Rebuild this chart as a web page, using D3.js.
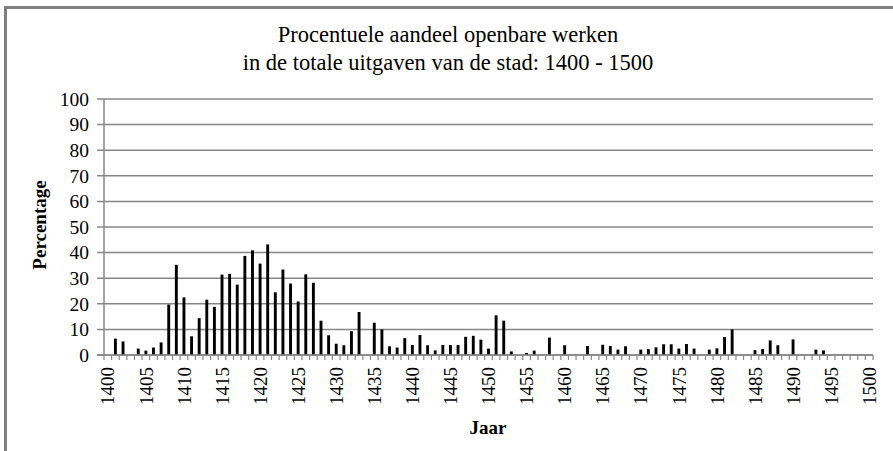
<!DOCTYPE html>
<html>
<head>
<meta charset="utf-8">
<script src="https://cdn.jsdelivr.net/npm/d3@7"></script>
<style>
  body { margin: 0; background: #fff; }
  svg text { font-family: "Liberation Serif", "Times New Roman", "DejaVu Serif", serif; fill: #000; }
</style>
</head>
<body>
<svg id="chart" width="893" height="451"></svg>
<script>
// years 1400 - 1500, one bar per year (0 = no bar)
var years = d3.range(1400, 1501);
var values = [
  0, 6.4, 5.3, 0, 2.5, 1.7, 2.9, 4.9, 19.7, 35.2,      // 1400-1409
  22.5, 7.3, 14.4, 21.6, 18.8, 31.4, 31.7, 27.5, 38.7, 40.9, // 1410-1419
  35.7, 43.2, 24.5, 33.4, 27.9, 20.9, 31.5, 28.2, 13.4, 7.7, // 1420-1429
  4.4, 3.8, 9.3, 16.8, 0, 12.6, 10.0, 3.4, 2.9, 6.6,   // 1430-1439
  3.9, 7.8, 3.8, 1.8, 3.9, 3.9, 3.9, 7.1, 7.5, 6.0,    // 1440-1449
  2.5, 15.5, 13.4, 1.4, 0, 0.8, 1.7, 0, 6.8, 0,        // 1450-1459
  3.8, 0, 0, 3.5, 0, 4.0, 3.5, 2.1, 3.4, 0,            // 1460-1469
  2.1, 2.3, 3.0, 4.2, 4.2, 2.5, 4.3, 2.5, 0, 2.1,      // 1470-1479
  2.6, 7.0, 10.0, 0, 0, 1.9, 2.3, 5.7, 3.8, 0,         // 1480-1489
  6.1, 0, 0, 2.1, 1.8, 0, 0, 0, 0, 0,                  // 1490-1499
  0                                                    // 1500
];
var yTicks = [0, 10, 20, 30, 40, 50, 60, 70, 80, 90, 100];
var xLabels = [1400, 1405, 1410, 1415, 1420, 1425, 1430, 1435, 1440, 1445,
  1450, 1455, 1460, 1465, 1470, 1475, 1480, 1485, 1490, 1495, 1500];
var titleLines = ["Procentuele aandeel openbare werken", "in de totale uitgaven van de stad: 1400 - 1500"];

var svg = d3.select("#chart");
var plotLeft = 104, plotRight = 873, plotTop = 99, plotBottom = 355;
var grey = "#878787";
var serif = "'Liberation Serif', 'Times New Roman', serif";

// outer frame (only top and left edges visible)
svg.append("path")
  .attr("d", "M5.5,451 V7.5 H893")
  .attr("fill", "none")
  .attr("stroke", "#7f7f7f")
  .attr("stroke-width", 3);

var x = d3.scaleBand().domain(years).range([plotLeft, plotRight]).padding(0);
var y = d3.scaleLinear().domain([0, 100]).range([plotBottom, plotTop]);

// gridlines + y labels
svg.append("g").selectAll("line")
  .data(yTicks)
  .enter().append("line")
  .attr("x1", plotLeft - 7).attr("x2", plotRight)
  .attr("y1", function(d) { return y(d); })
  .attr("y2", function(d) { return y(d); })
  .attr("stroke", grey)
  .attr("stroke-width", 1.5);

svg.append("g").selectAll("text")
  .data(yTicks)
  .enter().append("text")
  .attr("x", 89)
  .attr("y", function(d) { return y(d); })
  .attr("dy", "0.35em")
  .attr("text-anchor", "end")
  .attr("font-family", serif)
  .attr("font-size", 19.5)
  .text(function(d) { return d; });

// y axis line
svg.append("line")
  .attr("x1", plotLeft).attr("x2", plotLeft)
  .attr("y1", plotTop).attr("y2", plotBottom)
  .attr("stroke", grey).attr("stroke-width", 1.5);

// x ticks at band edges
var edges = years.map(function(d) { return x(d); }).concat([plotRight]);
svg.append("g").selectAll("line")
  .data(edges)
  .enter().append("line")
  .attr("x1", function(d) { return d; })
  .attr("x2", function(d) { return d; })
  .attr("y1", plotBottom).attr("y2", plotBottom + 5)
  .attr("stroke", grey).attr("stroke-width", 1.2);

// bars
var bw = x.bandwidth() * 0.38;
svg.append("g").selectAll("rect")
  .data(years.map(function(d, i) { return { year: d, value: values[i] }; })
    .filter(function(d) { return d.value > 0; }))
  .enter().append("rect")
  .attr("x", function(d) { return x(d.year) + (x.bandwidth() - bw) / 2; })
  .attr("y", function(d) { return y(d.value); })
  .attr("width", bw)
  .attr("height", function(d) { return y(0) - y(d.value); })
  .attr("fill", "#000");

// x axis line on top
svg.append("line")
  .attr("x1", plotLeft - 7).attr("x2", plotRight)
  .attr("y1", plotBottom).attr("y2", plotBottom)
  .attr("stroke", grey).attr("stroke-width", 1.5);

// rotated x labels
svg.append("g").selectAll("text")
  .data(xLabels)
  .enter().append("text")
  .attr("transform", function(d) {
    return "translate(" + (x(d) + x.bandwidth() / 2) + "," + (plotBottom + 12) + ") rotate(-90)";
  })
  .attr("dy", "0.35em")
  .attr("text-anchor", "end")
  .attr("font-family", serif)
  .attr("font-size", 19)
  .text(function(d) { return d; });

// titles
svg.selectAll(".title")
  .data(titleLines)
  .enter().append("text")
  .attr("class", "title")
  .attr("x", 448)
  .attr("y", function(d, i) { return 42 + i * 28; })
  .attr("text-anchor", "middle")
  .attr("font-family", serif)
  .attr("font-size", 22.5)
  .text(function(d) { return d; });

svg.append("text")
  .attr("transform", "translate(46,225) rotate(-90)")
  .attr("text-anchor", "middle")
  .attr("font-family", serif)
  .attr("font-size", 19)
  .attr("font-weight", "bold")
  .text("Percentage");

svg.append("text")
  .attr("x", 488)
  .attr("y", 434)
  .attr("text-anchor", "middle")
  .attr("font-family", serif)
  .attr("font-size", 19)
  .attr("font-weight", "bold")
  .text("Jaar");
</script>
</body>
</html>
